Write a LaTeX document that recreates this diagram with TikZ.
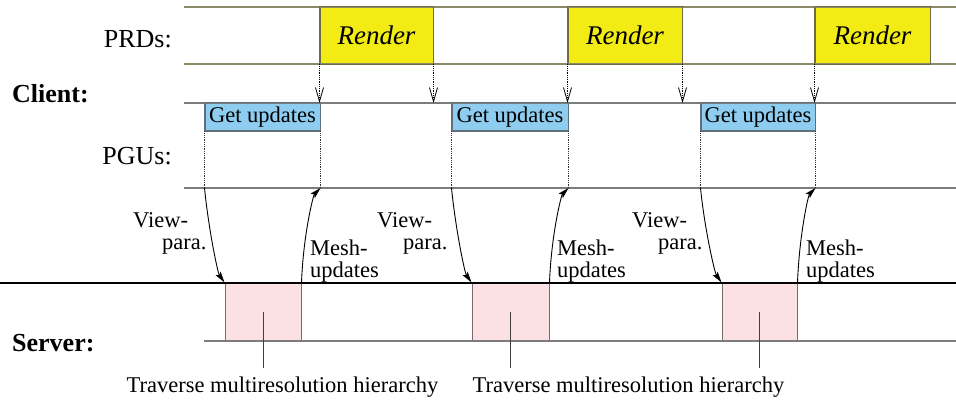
\documentclass[tikz,border=0pt]{standalone}
\usepackage{fontspec}
\setmainfont{Liberation Serif}
\usetikzlibrary{arrows.meta}

\definecolor{renderfill}{HTML}{F2EB14}
\definecolor{renderedge}{HTML}{6F6B45}
\definecolor{getfill}{HTML}{8ECDEF}
\definecolor{getedge}{HTML}{5F7078}
\definecolor{srvfill}{HTML}{FBE1E3}
\definecolor{srvedge}{HTML}{7A6A6C}
\definecolor{laneline}{HTML}{7C7C7C}
\definecolor{prdline}{HTML}{8A8A68}

\tikzset{
  lane/.style={draw=laneline, line width=1.3pt},
  prdlane/.style={draw=prdline, line width=1.3pt},
  srvlane/.style={draw=black, line width=1.5pt},
  renderbox/.style={draw=renderedge, fill=renderfill, line width=1pt, inner sep=0pt,
    minimum height=57pt, font=\fontsize{27}{30}\selectfont\itshape},
  getbox/.style={draw=getedge, fill=getfill, line width=1pt, inner sep=0pt,
    minimum height=28pt, font=\fontsize{22.5}{24}\selectfont},
  srvbox/.style={draw=srvedge, fill=srvfill, line width=1pt, inner sep=0pt,
    minimum height=58pt},
  lanelabel/.style={inner sep=0pt, font=\fontsize{26}{28}\selectfont},
  sidelabel/.style={inner sep=0pt, font=\fontsize{26}{28}\selectfont\bfseries},
  msglabel/.style={inner sep=0pt, font=\fontsize{22.5}{24}\selectfont},
  syncarrow/.style={densely dotted, line width=0.8pt,
    -{Straight Barb[length=14pt,width=8pt,line width=0.8pt]}},
  guide/.style={densely dotted, line width=0.8pt, draw=black!80},
  msgarrow/.style={line width=0.9pt, -{Stealth[length=11pt,width=6pt,inset=2pt]}},
  tick/.style={line width=1pt, draw=black!75},
}

\begin{document}
\begin{tikzpicture}[x=1pt, y=-1pt]
\useasboundingbox (0,0) rectangle (956,403);

% lane boundaries
\coordinate (prdTop) at (184,7);
\coordinate (prdBot) at (184,64);
\coordinate (pguTop) at (184,103);
\coordinate (pguBot) at (184,188);
\coordinate (srvTop) at (0,283);
\coordinate (srvBot) at (204,341);
\coordinate (rightEnd) at (956,0);

% rendering phases
\node[renderbox, minimum width=113pt] (r1) at (376.5,35.5) {Render};
\node[renderbox, minimum width=114pt] (r2) at (625,35.5) {Render};
\node[renderbox, minimum width=115pt] (r3) at (872.5,35.5) {Render};

% update phases
\node[getbox, minimum width=115pt] (g1) at (262.5,117) {Get updates};
\node[getbox, minimum width=116pt] (g2) at (510,117) {Get updates};
\node[getbox, minimum width=114pt] (g3) at (758,117) {Get updates};

% server traversal phases
\node[srvbox, minimum width=76pt] (s1) at (263,312) {};
\node[srvbox, minimum width=77pt] (s2) at (510.5,312) {};
\node[srvbox, minimum width=75pt] (s3) at (759.5,312) {};

% lane lines
\draw[prdlane] (prdTop) -- (prdTop -| rightEnd);
\draw[prdlane] (prdBot) -- (prdBot -| rightEnd);
\draw[lane] (pguTop) -- (pguTop -| rightEnd);
\draw[lane] (pguBot) -- (pguBot -| rightEnd);
\draw[lane] (srvBot) -- (srvBot -| rightEnd);
\draw[srvlane] (srvTop) -- (srvTop -| rightEnd);

% redraw box outlines over the lane lines
\foreach \b in {r1,r2,r3} \draw[draw=renderedge, line width=1pt] (\b.south west) rectangle (\b.north east);
\foreach \b in {g1,g2,g3} \draw[draw=getedge, line width=1pt] (\b.south west) rectangle (\b.north east);

% render -> update synchronisation
\draw[syncarrow] (r1.south west) -- (r1.south west |- pguTop);
\draw[syncarrow] (r1.south east) -- (r1.south east |- pguTop);
\draw[syncarrow] (r2.south west) -- (r2.south west |- pguTop);
\draw[syncarrow] (r2.south east) -- (r2.south east |- pguTop);
\draw[syncarrow] (r3.south west) -- (r3.south west |- pguTop);

% dotted guides below the update phases
\foreach \b in {g1,g2,g3} {
  \draw[guide] (\b.south west) -- (\b.south west |- pguBot);
  \draw[guide] (\b.south east) -- (\b.south east |- pguBot);
}

% messages between client and server
\foreach \g/\s in {g1/s1,g2/s2,g3/s3} {
  \draw[msgarrow] (\g.south west |- pguBot) .. controls +(4,40) and +(-7,-10) .. (\s.north west);
  \draw[msgarrow] (\s.north east) .. controls +(2,-50) and +(-7,7) .. (\g.south east |- pguBot);
}

% message labels
\node[msglabel, anchor=base west] (vp1a) at (133,228) {View-};
\node[msglabel, anchor=base west] (vp1b) at (162,250) {para.};
\node[msglabel, anchor=base west] (vp2a) at (377,228) {View-};
\node[msglabel, anchor=base west] (vp2b) at (403,250) {para.};
\node[msglabel, anchor=base west] (vp3a) at (632,228) {View-};
\node[msglabel, anchor=base west] (vp3b) at (658,250) {para.};

\node[msglabel, anchor=base west] (mu1a) at (310,256) {Mesh-};
\node[msglabel, anchor=base west] (mu1b) at (310,278) {updates};
\node[msglabel, anchor=base west] (mu2a) at (557,256) {Mesh-};
\node[msglabel, anchor=base west] (mu2b) at (557,278) {updates};
\node[msglabel, anchor=base west] (mu3a) at (806,256) {Mesh-};
\node[msglabel, anchor=base west] (mu3b) at (806,278) {updates};

% lane labels
\node[lanelabel, anchor=base east] (prd) at (172,48) {PRDs:};
\node[lanelabel, anchor=base east] (pgu) at (172,165) {PGUs:};
\node[sidelabel, anchor=base west] (client) at (12,103) {Client:};
\node[sidelabel, anchor=base west] (server) at (12,352) {Server:};

% server phase captions
\node[msglabel, anchor=base] (t1) at (282.5,392) {Traverse multiresolution hierarchy};
\node[msglabel, anchor=base] (t2) at (628.5,392) {Traverse multiresolution hierarchy};
\draw[tick] (s1.center) -- (s1.center |- 0,368);
\draw[tick] (s2.center) -- (s2.center |- 0,368);
\draw[tick] (s3.center) -- (s3.center |- 0,368);
\end{tikzpicture}
\end{document}
